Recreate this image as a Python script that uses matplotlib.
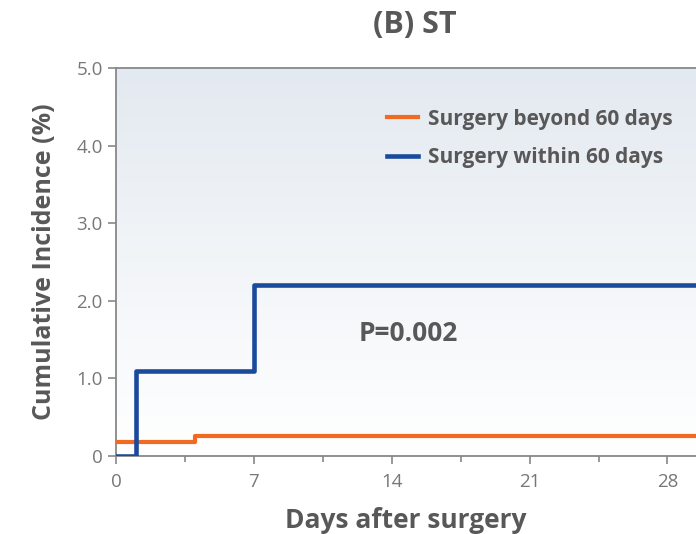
import numpy as np
import matplotlib
matplotlib.use('Agg')
import matplotlib.pyplot as plt
from matplotlib.colors import LinearSegmentedColormap

# step data: day where the curve changes, value (%) from that day on
days_beyond = [0, 4, 29.5]
inc_beyond = [0.18, 0.26, 0.26]
days_within = [0, 1, 7, 29.5]
inc_within = [0.0, 1.1, 2.2, 2.2]

x_ticks = [0, 7, 14, 21, 28]
y_ticks = [0, 1, 2, 3, 4, 5]
y_labels = ['0', '1.0', '2.0', '3.0', '4.0', '5.0']

orange = '#f26a21'
blue = '#1a4a9c'
grey = '#777777'
dark = '#585858'

plt.rcParams['font.family'] = ['Open Sans', 'DejaVu Sans']

fig = plt.figure(figsize=(6.96, 5.34), dpi=100)
ax = fig.add_axes([116 / 696, 78 / 534, 1 - 116 / 696, 388 / 534])
ax.set_xlim(0, 29.45)
ax.set_ylim(0, 5.0)

# soft blue-grey gradient behind the curves
cmap = LinearSegmentedColormap.from_list('bg', ['#ffffff', '#f2f5f8', '#e3e9f0'])
grad = np.linspace(0, 1, 256).reshape(-1, 1)
ax.imshow(grad, aspect='auto', cmap=cmap, origin='lower',
          extent=[0, 29.45, 0, 5.0], zorder=0)

ax.step(days_beyond, inc_beyond, where='post', color=orange, linewidth=3,
        label='Surgery beyond 60 days', zorder=3)
ax.step(days_within, inc_within, where='post', color=blue, linewidth=3.3,
        label='Surgery within 60 days', zorder=4)

ax.text(14.85, 1.58, 'P=0.002', ha='center', va='center', fontsize=19,
        fontweight='bold', color=dark)

leg = ax.legend(loc='upper left', bbox_to_anchor=(0.468, 0.895), frameon=False,
                borderpad=0, borderaxespad=0,
                handlelength=1.45, handletextpad=0.5, labelspacing=0.85,
                prop={'size': 15, 'weight': 'bold'})
for t in leg.get_texts():
    t.set_color(dark)

ax.set_xticks(x_ticks)
ax.set_xticks(np.arange(3.5, 29, 7), minor=True)
ax.set_yticks(y_ticks)
ax.set_yticklabels(y_labels)
ax.tick_params(axis='both', colors='#888888', labelcolor=grey, labelsize=13.5,
               length=6, width=1.2, direction='out')
ax.tick_params(axis='x', pad=6)
ax.tick_params(axis='x', which='minor', colors='#888888', length=4, width=1.2)

for side in ('top', 'left', 'bottom'):
    ax.spines[side].set_color('#888888')
    ax.spines[side].set_linewidth(1.3)
ax.spines['right'].set_visible(False)

ax.set_xlabel('Days after surgery', fontsize=19, fontweight='bold', color=dark, labelpad=12)
ax.set_ylabel('Cumulative Incidence (%)', fontsize=18, fontweight='bold', color=dark, labelpad=14)
fig.text(415 / 696, 1 - 25 / 534, '(B) ST', ha='center', va='center', fontsize=22,
         fontweight='bold', color=dark)

fig.savefig('out.png', dpi=100)
